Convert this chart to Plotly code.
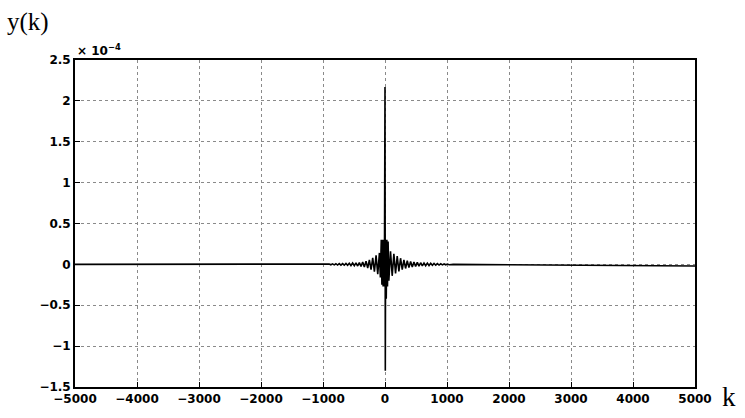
import plotly.graph_objects as go

# sample index k and response y(k) in units of 1e-4
k_vals = [-5000, -1000, -900, -873, -846, -819, -792, -765, -738, -711, -684, -657,
          -630, -603, -576, -549, -522, -495, -468, -441, -414, -387, -360, -333,
          -306, -279, -252, -225, -198, -171, -144, -117, -90, -75, -60, -50, -40,
          -30, -20, -10, 0, 5, 10, 20, 30, 40, 50, 62, 89, 116, 143, 170, 197, 224,
          251, 278, 305, 332, 359, 386, 413, 440, 467, 494, 521, 548, 575, 602,
          629, 656, 683, 710, 737, 764, 791, 818, 845, 872, 899, 926, 953, 980,
          1007, 1034, 1100, 5000]
y_vals = [0.0, 0.0, 0.005, -0.005, 0.006, -0.006, 0.008, -0.008, 0.009, -0.009, 0.01, -0.01,
          0.012, -0.012, 0.014, -0.014, 0.016, -0.016, 0.018, -0.02, 0.022, -0.025, 0.03, -0.033,
          0.04, -0.045, 0.055, -0.065, 0.08, -0.09, 0.11, -0.12, 0.14, -0.16, 0.3, -0.25, 0.3,
          -0.27, 0.3, -0.27, 2.17, -1.3, 0.3, -0.42, 0.3, -0.27, 0.28, -0.2, 0.16, -0.14,
          0.13, -0.11, 0.1, -0.085, 0.075, -0.065, 0.055, -0.05, 0.045, -0.04, 0.035, -0.032,
          0.03, -0.027, 0.025, -0.022, 0.02, -0.018, 0.017, -0.016, 0.015, -0.014, 0.013,
          -0.012, 0.011, -0.01, 0.009, -0.008, 0.007, -0.006, 0.005, -0.005, 0.004, -0.004,
          0.0, -0.02]

x_ticks = [-5000, -4000, -3000, -2000, -1000, 0, 1000, 2000, 3000, 4000, 5000]
x_tick_text = ["\u22125000", "\u22124000", "\u22123000", "\u22122000", "\u22121000", "0",
               "1000", "2000", "3000", "4000", "5000"]
y_ticks = [-1.5, -1, -0.5, 0, 0.5, 1, 1.5, 2, 2.5]
y_tick_text = ["\u22121.5", "\u22121", "\u22120.5", "0", "0.5", "1", "1.5", "2", "2.5"]

fig = go.Figure()
fig.add_trace(go.Scatter(x=k_vals, y=y_vals, mode="lines",
                         line=dict(color="black", width=1.6), showlegend=False))

tickfont = dict(family="DejaVu Sans, Arial, sans-serif", size=12, color="black", weight="bold")
fig.update_xaxes(range=[-5000, 5000], tickvals=x_ticks, ticktext=x_tick_text,
                 showgrid=True, gridcolor="#8a8a8a", griddash="dot", gridwidth=1,
                 zeroline=False, showline=True, linecolor="black", linewidth=1.8,
                 mirror=True, ticks="inside", ticklen=5, tickcolor="black",
                 tickfont=tickfont)
fig.update_yaxes(range=[-1.5, 2.5], tickvals=y_ticks, ticktext=y_tick_text,
                 showgrid=True, gridcolor="#8a8a8a", griddash="dot", gridwidth=1,
                 zeroline=False, showline=True, linecolor="black", linewidth=1.8,
                 mirror=True, ticks="inside", ticklen=5, tickcolor="black",
                 tickfont=tickfont)

fig.add_annotation(text="y(k)", xref="paper", yref="paper", x=-0.113, y=1.115,
                   xanchor="left", yanchor="middle", showarrow=False,
                   font=dict(family="Liberation Serif, Times New Roman, serif", size=25, color="black"))
fig.add_annotation(text="k", xref="paper", yref="paper", x=1.04, y=-0.03,
                   xanchor="left", yanchor="middle", showarrow=False,
                   font=dict(family="Liberation Serif, Times New Roman, serif", size=27, color="black"))
fig.add_annotation(text="\u00d7 10<sup>\u22124</sup>", xref="paper", yref="paper", x=0.0, y=1.0,
                   xanchor="left", yanchor="bottom", showarrow=False,
                   font=dict(family="DejaVu Sans, Arial, sans-serif", size=12, color="black", weight="bold"))

fig.update_layout(width=745, height=418, margin=dict(l=75, r=50, t=60, b=28),
                  paper_bgcolor="white", plot_bgcolor="white")
fig.write_html("out.html")
